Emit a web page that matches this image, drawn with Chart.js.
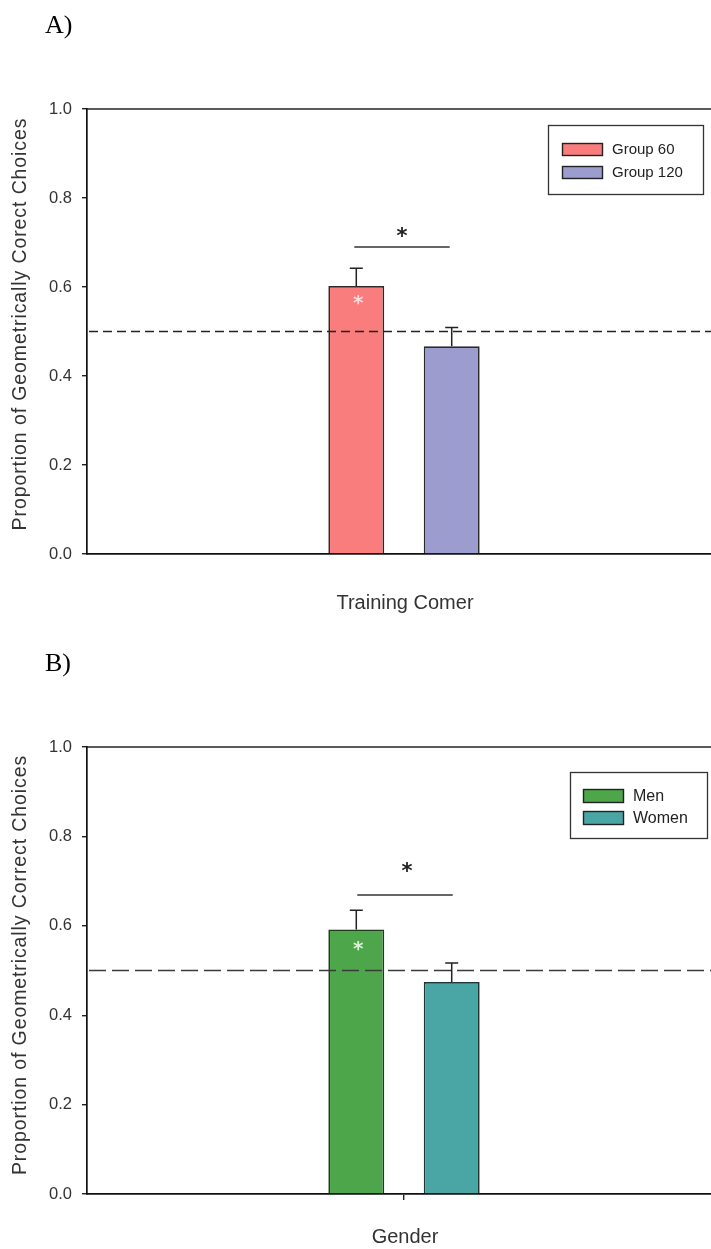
<!DOCTYPE html>
<html>
<head>
<meta charset="utf-8">
<script src="https://cdn.jsdelivr.net/npm/chart.js@4.4.1/dist/chart.umd.min.js"></script>
<style>
  html, body { margin: 0; padding: 0; background: #fff; width: 711px; height: 1249px; overflow: hidden; }
  .panel { position: absolute; left: 0; width: 740px; }
  #panelA { top: 0; height: 625px; }
  #panelB { top: 625px; height: 624px; }
  canvas { display: block; }
</style>
</head>
<body>
<div class="panel" id="panelA"><canvas id="chartA" width="740" height="625"></canvas></div>
<div class="panel" id="panelB"><canvas id="chartB" width="740" height="624"></canvas></div>
<script>
// Shared axis settings
const yTickValues = [0.0, 0.2, 0.4, 0.6, 0.8, 1.0];
const chanceLevel = 0.5;
const yTitleA = 'Proportion of Geometrically Corect Choices';
const yTitleB = 'Proportion of Geometrically Correct Choices';

// Panel A: training corner
const categoriesA = [''];
const seriesNamesA = ['Group 60', 'Group 120'];
const meansA = [0.602, 0.467];
const errorsA = [0.040, 0.042];
const xTitleA = 'Training Comer';

// Panel B: gender
const categoriesB = [''];
const seriesNamesB = ['Men', 'Women'];
const meansB = [0.592, 0.474];
const errorsB = [0.043, 0.043];
const xTitleB = 'Gender';

const SANS = '"Liberation Sans", Arial, sans-serif';
const SERIF = '"Liberation Serif", "Times New Roman", serif';

// Error bars, chance line, significance marks, legend box and titles
const panelDecor = {
  id: 'panelDecor',
  afterDatasetsDraw(chart, args, o) {
    const { ctx, chartArea: a, scales: { x, y } } = chart;
    ctx.save();

    // chance level (dashed)
    ctx.strokeStyle = o.dashColor;
    ctx.lineWidth = 1.5;
    ctx.setLineDash(o.dash);
    const yc = y.getPixelForValue(chanceLevel);
    ctx.beginPath(); ctx.moveTo(a.left + 2, yc); ctx.lineTo(a.right, yc); ctx.stroke();
    ctx.setLineDash([]);

    // upward error bars
    const centers = [];
    chart.data.datasets.forEach((ds, i) => {
      const bar = chart.getDatasetMeta(i).data[0];
      centers.push(bar.x);
      const y0 = y.getPixelForValue(ds.data[0]);
      const y1 = y.getPixelForValue(ds.data[0] + o.errors[i]);
      ctx.strokeStyle = '#222';
      ctx.lineWidth = 1.5;
      ctx.beginPath();
      ctx.moveTo(bar.x, y0); ctx.lineTo(bar.x, y1);
      ctx.moveTo(bar.x - 6.5, y1); ctx.lineTo(bar.x + 6.5, y1);
      ctx.stroke();
    });

    // significance bracket between the groups
    const yb = y.getPixelForValue(o.bracketAt);
    ctx.strokeStyle = '#333';
    ctx.lineWidth = 1.4;
    ctx.beginPath(); ctx.moveTo(centers[0] + o.bracketShift, yb); ctx.lineTo(centers[1] + o.bracketShift, yb); ctx.stroke();
    ctx.fillStyle = '#222';
    ctx.font = 'bold 21px "DejaVu Sans", sans-serif';
    ctx.textAlign = 'center';
    ctx.textBaseline = 'middle';
    ctx.fillText('*', (centers[0] + centers[1]) / 2 + o.starShift, y.getPixelForValue(o.starAt) + 4);

    // difference from chance inside the first bar
    ctx.fillStyle = o.innerStarColor;
    ctx.font = 'bold 20px "DejaVu Sans", sans-serif';
    ctx.fillText('*', centers[0] + 2, y.getPixelForValue(meansFor(chart)[0] - o.innerStarDrop) + 4);

    // top frame line
    ctx.strokeStyle = '#222';
    ctx.lineWidth = 1.5;
    ctx.beginPath(); ctx.moveTo(a.left, a.top); ctx.lineTo(a.right, a.top); ctx.stroke();

    // legend box
    const L = o.legend;
    ctx.strokeStyle = '#333';
    ctx.lineWidth = 1.3;
    ctx.strokeRect(L.x + 0.5, L.y + 0.5, L.w, L.h);
    ctx.font = L.fontSize + 'px ' + SANS;
    ctx.textAlign = 'left';
    ctx.textBaseline = 'middle';
    chart.data.datasets.forEach((ds, i) => {
      const sy = L.y + L.rows[i];
      ctx.fillStyle = ds.backgroundColor;
      ctx.fillRect(L.x + L.swX, sy, 40, L.swH);
      ctx.strokeStyle = '#222';
      ctx.lineWidth = 1.4;
      ctx.strokeRect(L.x + L.swX + 0.5, sy + 0.5, 40, L.swH);
      ctx.fillStyle = '#222';
      ctx.fillText(ds.label, L.x + L.textX, sy + L.swH / 2 + 1);
    });

    // y-axis title
    ctx.save();
    ctx.translate(21, o.yTitleCenter);
    ctx.rotate(-Math.PI / 2);
    ctx.font = '19.5px ' + SANS;
    ctx.letterSpacing = '0.9px';
    ctx.fillStyle = '#333';
    ctx.textAlign = 'center';
    ctx.textBaseline = 'middle';
    ctx.fillText(o.yTitle, 0, 0);
    ctx.restore();

    // x-axis title
    ctx.font = '20px ' + SANS;
    ctx.fillStyle = '#333';
    ctx.textAlign = 'center';
    ctx.textBaseline = 'middle';
    ctx.fillText(o.xTitle, o.xTitleX, o.xTitleY);

    // panel letter
    ctx.font = '26px ' + SERIF;
    ctx.fillStyle = '#000';
    ctx.textAlign = 'left';
    ctx.textBaseline = 'alphabetic';
    ctx.fillText(o.letter, 45, o.letterY);

    ctx.restore();
  }
};

function meansFor(chart) {
  return chart.data.datasets.map(ds => ds.data[0]);
}

function makePanel(canvasId, p) {
  const canvas = document.getElementById(canvasId);
  return new Chart(canvas, {
    type: 'bar',
    data: {
      labels: p.categories,
      datasets: p.names.map((name, i) => ({
        label: name,
        data: [p.means[i]],
        backgroundColor: p.colors[i],
        borderColor: p.borders[i],
        borderWidth: 1.7,
        categoryPercentage: 0.301,
        barPercentage: 0.586
      }))
    },
    options: {
      responsive: false,
      animation: false,
      events: [],
      layout: { padding: { top: p.top, right: 19, bottom: 0, left: 0 } },
      plugins: {
        legend: { display: false },
        tooltip: { enabled: false },
        panelDecor: p.decor
      },
      scales: {
        x: {
          type: 'category',
          offset: true,
          ticks: { display: false },
          grid: {
            display: p.centerTick,
            offset: false,
            drawOnChartArea: false,
            drawTicks: p.centerTick,
            tickLength: 6,
            color: '#222',
            lineWidth: 1.4
          },
          border: { display: true, color: '#111', width: 1.7 },
          afterFit(scale) { scale.height = p.xHeight; }
        },
        y: {
          min: 0,
          max: 1,
          afterBuildTicks(scale) { scale.ticks = yTickValues.map(v => ({ value: v })); },
          ticks: {
            padding: 10,
            color: '#333',
            font: { family: SANS, size: 16.5 },
            callback: v => v.toFixed(1)
          },
          grid: {
            drawOnChartArea: false,
            drawTicks: true,
            tickLength: 5,
            color: '#222',
            lineWidth: 1.4
          },
          border: { display: true, color: '#111', width: 1.7 },
          afterFit(scale) { scale.width = 87; }
        }
      }
    },
    plugins: [panelDecor]
  });
}

makePanel('chartA', {
  categories: categoriesA,
  names: seriesNamesA,
  means: meansA,
  colors: ['#F97D7D', '#9C9CCE'],
  borders: ['#2a2a2a', '#2a2a2a'],
  top: 109,
  xHeight: 625 - 554,
  centerTick: false,
  decor: {
    errors: errorsA,
    dash: [9, 5],
    dashColor: '#222',
    bracketAt: 0.690,
    bracketShift: -2,
    starAt: 0.720,
    starShift: -2,
    innerStarColor: '#F8DCDC',
    innerStarDrop: 0.030,
    legend: { x: 548, y: 125, w: 155, h: 69, swX: 14, swH: 12, rows: [18, 41], textX: 64, fontSize: 15 },
    yTitle: yTitleA,
    yTitleCenter: 324,
    xTitle: xTitleA,
    xTitleX: 405,
    xTitleY: 603,
    letter: 'A)',
    letterY: 33
  }
});

makePanel('chartB', {
  categories: categoriesB,
  names: seriesNamesB,
  means: meansB,
  colors: ['#4EA64B', '#4AA5A5'],
  borders: ['#1f3a1f', '#1f3535'],
  top: 122,
  xHeight: 624 - 569,
  centerTick: true,
  decor: {
    errors: errorsB,
    dash: [17, 6],
    dashColor: '#3a3a3a',
    bracketAt: 0.669,
    bracketShift: 1,
    starAt: 0.729,
    starShift: 3,
    innerStarColor: '#DDF2DD',
    innerStarDrop: 0.037,
    legend: { x: 570, y: 147, w: 137, h: 66, swX: 13, swH: 13, rows: [17, 39], textX: 63, fontSize: 16 },
    yTitle: yTitleB,
    yTitleCenter: 340,
    xTitle: xTitleB,
    xTitleX: 405,
    xTitleY: 612,
    letter: 'B)',
    letterY: 46
  }
});
</script>
</body>
</html>
